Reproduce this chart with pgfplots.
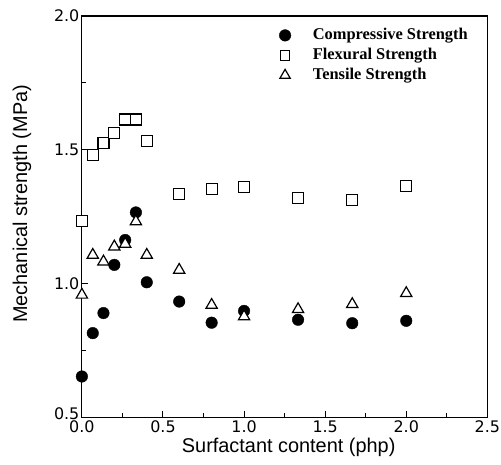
\documentclass[border=0pt]{standalone}
\usepackage{fontspec}
\setmainfont{Liberation Sans}
\newfontfamily\legfont{Liberation Serif}
\newfontfamily\tickfont{DejaVu Sans}
\usepackage{pgfplots}
\pgfplotsset{compat=1.18}
\pgfplotsset{
  legmark/.style={legend image code/.code={\draw[##1, mark size=#1] plot coordinates {(0bp,0bp)};}},
}
\begin{document}
\begin{tikzpicture}
\begin{axis}[
  scale only axis,
  width=406bp, height=402bp,
  xmin=0, xmax=2.5, ymin=0.5, ymax=2.0,
  xtick={0,0.5,1.0,1.5,2.0,2.5},
  ytick={1.0,1.5,2.0},
  extra y ticks={0.5},
  extra y tick style={yticklabel style={yshift=4bp}},
  minor x tick num=1,
  minor ytick={0.75,1.25,1.75},
  tick pos=left, tick align=inside,
  major tick length=6bp, minor tick length=4bp,
  axis line style={line width=1.2bp},
  every tick/.style={black, line width=1bp},
  /pgf/number format/assume math mode=true,
  xticklabel style={/pgf/number format/fixed, /pgf/number format/fixed zerofill, /pgf/number format/precision=1, inner sep=1bp, yshift=-2bp},
  yticklabel style={/pgf/number format/fixed, /pgf/number format/fixed zerofill, /pgf/number format/precision=1, xshift=1bp},
  tick label style={font=\tickfont\fontsize{16}{18}\selectfont},
  label style={font=\fontsize{20}{22}\selectfont},
  xlabel={Surfactant content (php)},
  ylabel={Mechanical strength (MPa)},
  xlabel style={at={(axis description cs:0.51,-0.087)}, anchor=base},
  ylabel style={at={(axis description cs:-0.148,0.532)}, anchor=center},
  legend style={draw=none, fill=none, at={(axis description cs:0.479,0.977)}, anchor=north west,
    font=\legfont\bfseries\fontsize{16.5}{19}\selectfont, row sep=4bp,
    nodes={inner sep=0pt, text height=12bp, text depth=4bp},
    legend cell align=left,
    /tikz/every odd column/.append style={column sep=22bp}},
]
\addplot[only marks, mark=*, mark size=5.8bp, mark options={fill=black, draw=black}, legmark=5.8bp] coordinates {
(0,0.653) (0.067,0.815) (0.133,0.890) (0.2,1.070) (0.267,1.163) (0.333,1.266)
(0.4,1.005) (0.6,0.933) (0.8,0.854) (1.0,0.898) (1.333,0.865) (1.667,0.852) (2.0,0.861)};
\addlegendentry{Compressive Strength}
\addplot[only marks, mark=square*, mark size=5.5bp, mark options={fill=white, draw=black, line width=1.2bp}, legmark=4.8bp] coordinates {
(0,1.234) (0.067,1.480) (0.133,1.524) (0.2,1.564) (0.267,1.613) (0.333,1.613)
(0.4,1.532) (0.6,1.335) (0.8,1.353) (1.0,1.360) (1.333,1.321) (1.667,1.312) (2.0,1.366)};
\addlegendentry{Flexural Strength}
\addplot[only marks, mark=triangle*, mark size=6.5bp, mark options={fill=white, draw=black, line width=1.2bp}, legmark=6bp] coordinates {
(0,0.958) (0.067,1.107) (0.133,1.082) (0.2,1.138) (0.267,1.148) (0.333,1.232)
(0.4,1.107) (0.6,1.051) (0.8,0.920) (1.0,0.877) (1.333,0.904) (1.667,0.923) (2.0,0.964)};
\addlegendentry{Tensile Strength}
\end{axis}
\path (current axis.south west) ++(-82bp,-47bp) rectangle ++(501bp,465bp);
\end{tikzpicture}
\end{document}
